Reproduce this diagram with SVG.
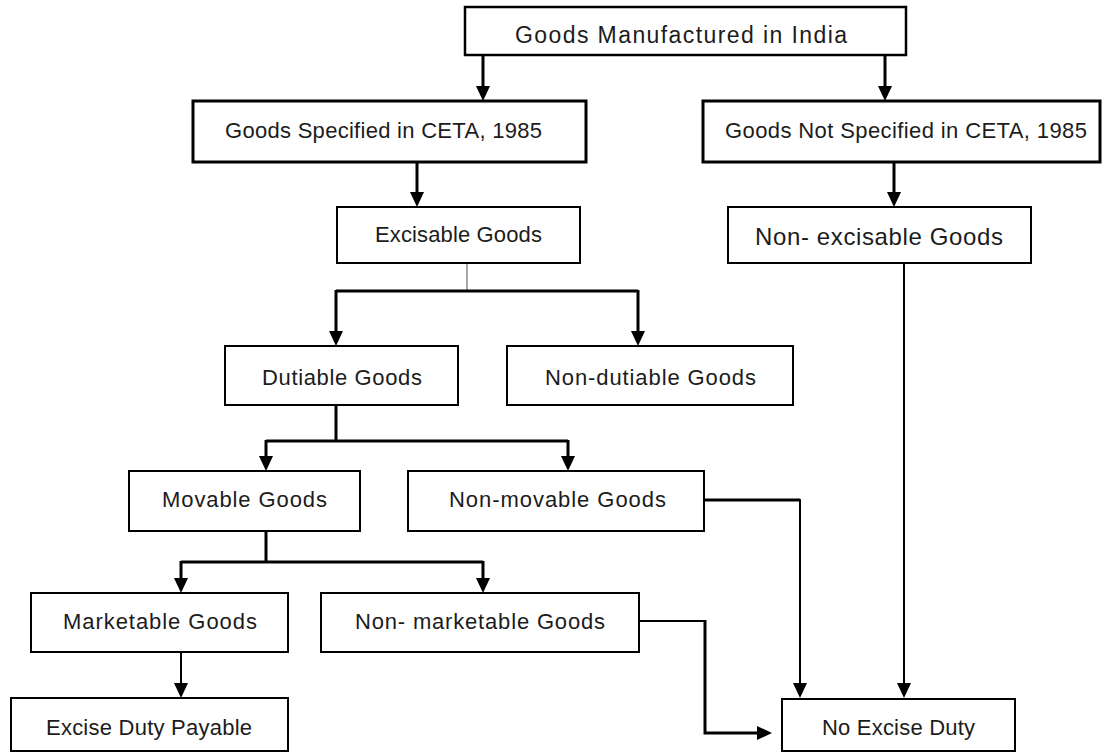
<svg xmlns="http://www.w3.org/2000/svg" width="1103" height="753" viewBox="0 0 1103 753">
  <style>
    .box { fill: #ffffff; stroke: #000000; stroke-width: 2; }
    .box.heavy { stroke-width: 3; }
    .box.mid { stroke-width: 2.5; }
    .lbl { font-family: "Liberation Sans", Arial, sans-serif; font-size: 22px; fill: #1c1c1c; text-anchor: middle; }
    .lbl.big { font-size: 24px; }
    .lbl.top { font-size: 23px; }
    .wire { fill: none; stroke: #000000; stroke-width: 3; stroke-linejoin: miter; }
    .wire.thin { stroke-width: 2; }
    .wire.faint { stroke: #8a8a8a; stroke-width: 1.5; }
  </style>
  <defs>
    <marker id="arr" markerUnits="userSpaceOnUse" markerWidth="15" markerHeight="14" viewBox="0 0 15 14" refX="11" refY="7" orient="auto">
      <path d="M0,0 L15,7 L0,14 z" fill="#000000"/>
    </marker>
  </defs>
  <rect width="1103" height="753" fill="#ffffff"/>

  <!-- connectors -->
  <g id="connectors">
    <path class="wire" d="M483,55 V97" marker-end="url(#arr)"/>
    <path class="wire" d="M885,55 V97" marker-end="url(#arr)"/>
    <path class="wire" d="M417,162 V203" marker-end="url(#arr)"/>
    <path class="wire" d="M894,162 V203" marker-end="url(#arr)"/>

    <path class="wire faint" d="M467,263 V291"/>
    <path class="wire" d="M336,291 H638"/>
    <path class="wire" d="M336,290 V342" marker-end="url(#arr)"/>
    <path class="wire" d="M638,290 V342" marker-end="url(#arr)"/>

    <path class="wire" d="M336,405 V441"/>
    <path class="wire" d="M266,441 H568"/>
    <path class="wire" d="M266,440 V467" marker-end="url(#arr)"/>
    <path class="wire" d="M568,440 V467" marker-end="url(#arr)"/>

    <path class="wire" d="M266,531 V562"/>
    <path class="wire" d="M181,562 H483"/>
    <path class="wire" d="M181,561 V589" marker-end="url(#arr)"/>
    <path class="wire" d="M483,561 V589" marker-end="url(#arr)"/>

    <path class="wire thin" d="M181,652 V694" marker-end="url(#arr)"/>

    <path class="wire" d="M704,500 H800"/>
    <path class="wire thin" d="M800,499 V694" marker-end="url(#arr)"/>

    <path class="wire thin" d="M639,621 H705"/>
    <path class="wire" d="M705,620 V733 H768" marker-end="url(#arr)"/>

    <path class="wire thin" d="M904,263 V694" marker-end="url(#arr)"/>
  </g>

  <!-- nodes -->
  <g id="n-manufactured">
    <rect class="box mid" x="465" y="7" width="441" height="48"/>
    <text class="lbl top" x="681" y="43" textLength="332">Goods Manufactured in India</text>
  </g>
  <g id="n-specified">
    <rect class="box heavy" x="193" y="101" width="393" height="61"/>
    <text class="lbl" x="383.5" y="138" textLength="317">Goods Specified in CETA, 1985</text>
  </g>
  <g id="n-not-specified">
    <rect class="box heavy" x="703" y="101" width="397" height="61"/>
    <text class="lbl" x="906" y="138" textLength="362">Goods Not Specified in CETA, 1985</text>
  </g>
  <g id="n-excisable">
    <rect class="box" x="337" y="207" width="243" height="56"/>
    <text class="lbl" x="458.5" y="242" textLength="167">Excisable Goods</text>
  </g>
  <g id="n-non-excisable">
    <rect class="box" x="728" y="207" width="303" height="56"/>
    <text class="lbl big" x="879" y="245" textLength="248">Non- excisable Goods</text>
  </g>
  <g id="n-dutiable">
    <rect class="box" x="225" y="346" width="233" height="59"/>
    <text class="lbl" x="342" y="385" textLength="160">Dutiable Goods</text>
  </g>
  <g id="n-non-dutiable">
    <rect class="box" x="507" y="346" width="286" height="59"/>
    <text class="lbl" x="650.5" y="385" textLength="211">Non-dutiable Goods</text>
  </g>
  <g id="n-movable">
    <rect class="box" x="129" y="471" width="231" height="60"/>
    <text class="lbl" x="244.5" y="507" textLength="165">Movable Goods</text>
  </g>
  <g id="n-non-movable">
    <rect class="box" x="408" y="471" width="296" height="60"/>
    <text class="lbl" x="557.5" y="507" textLength="217">Non-movable Goods</text>
  </g>
  <g id="n-marketable">
    <rect class="box" x="31" y="593" width="257" height="59"/>
    <text class="lbl" x="160" y="629" textLength="194">Marketable Goods</text>
  </g>
  <g id="n-non-marketable">
    <rect class="box" x="321" y="593" width="318" height="59"/>
    <text class="lbl" x="480" y="629" textLength="250">Non- marketable Goods</text>
  </g>
  <g id="n-duty-payable">
    <rect class="box" x="11" y="698" width="277" height="53"/>
    <text class="lbl" x="149" y="735" textLength="206">Excise Duty Payable</text>
  </g>
  <g id="n-no-duty">
    <rect class="box" x="782" y="699" width="233" height="52"/>
    <text class="lbl" x="898.5" y="735" textLength="153">No Excise Duty</text>
  </g>
</svg>
